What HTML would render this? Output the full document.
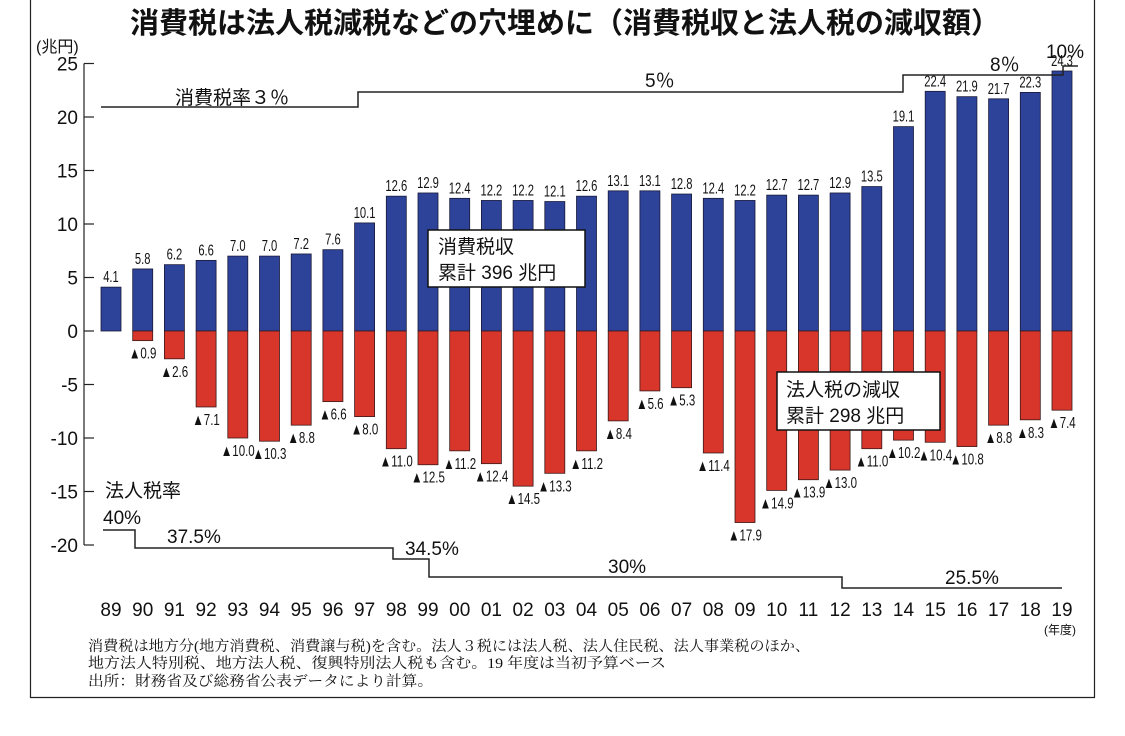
<!DOCTYPE html>
<html><head><meta charset="utf-8">
<style>
body{margin:0;background:#fff;}
svg{display:block;}
text{font-family:"Liberation Sans","Noto Sans CJK JP",sans-serif;fill:#111;}
.ser{font-family:"Liberation Serif","Noto Serif CJK SC",serif;}
</style></head>
<body>
<svg id="chart" width="1125" height="736" viewBox="0 0 1125 736" xmlns="http://www.w3.org/2000/svg">
<rect x="0" y="0" width="1125" height="736" fill="#fff"/>
<path d="M30.5 0 V697.5 H1094.5 V0" fill="none" stroke="#222" stroke-width="1.2"/>
<text x="565" y="33" text-anchor="middle" font-size="29" font-weight="bold">消費税は法人税減税などの穴埋めに（消費税収と法人税の減収額）</text>
<text x="36" y="52" font-size="16">(兆円)</text>
<g id="axis"></g>
<g id="bars"></g>
<g id="rates"></g>
<g id="xlabels"></g>
<text x="1060" y="634" font-size="12" text-anchor="middle">(年度)</text>
<g>
<rect x="428" y="230" width="157" height="57" fill="#fff" stroke="#111" stroke-width="1.5"/>
<text x="438" y="253" font-size="19">消費税収</text>
<text x="438" y="279" font-size="19">累計 396 兆円</text>
</g>
<g>
<rect x="777" y="372" width="163" height="58" fill="#fff" stroke="#111" stroke-width="1.5"/>
<text x="786" y="396" font-size="19">法人税の減収</text>
<text x="786" y="422" font-size="19">累計 298 兆円</text>
</g>
<g class="ser">
<text class="ser" x="88" y="651" font-size="14.5" textLength="722" lengthAdjust="spacingAndGlyphs">消費税は地方分(地方消費税、消費譲与税)を含む。法人３税には法人税、法人住民税、法人事業税のほか、</text>
<text class="ser" x="88" y="668" font-size="14.5" textLength="578" lengthAdjust="spacingAndGlyphs">地方法人特別税、地方法人税、復興特別法人税も含む。19 年度は当初予算ベース</text>
<text class="ser" x="88" y="686" font-size="14.5" textLength="345" lengthAdjust="spacingAndGlyphs">出所：財務省及び総務省公表データにより計算。</text>
</g>
</svg>
<script>
const years = ["89","90","91","92","93","94","95","96","97","98","99","00","01","02","03","04","05","06","07","08","09","10","11","12","13","14","15","16","17","18","19"];
const consumption = [4.1,5.8,6.2,6.6,7.0,7.0,7.2,7.6,10.1,12.6,12.9,12.4,12.2,12.2,12.1,12.6,13.1,13.1,12.8,12.4,12.2,12.7,12.7,12.9,13.5,19.1,22.4,21.9,21.7,22.3,24.3];
const corpLoss = [0,0.9,2.6,7.1,10.0,10.3,8.8,6.6,8.0,11.0,12.5,11.2,12.4,14.5,13.3,11.2,8.4,5.6,5.3,11.4,17.9,14.9,13.9,13.0,11.0,10.2,10.4,10.8,8.8,8.3,7.4];
const yTicks = [25,20,15,10,5,0,-5,-10,-15,-20];

const NS="http://www.w3.org/2000/svg";
const y0=331, k=10.7;
function yS(v){return y0 - v*k;}
function xS(i){return 111 + i*31.7;}
function mk(tag, attrs, parent, txt){const e=document.createElementNS(NS,tag);for(const a in attrs)e.setAttribute(a,attrs[a]);if(txt!==undefined)e.textContent=txt;parent.appendChild(e);return e;}

const ax=document.getElementById('axis');
mk('line',{x1:84,y1:yS(25),x2:84,y2:yS(-20),stroke:'#222','stroke-width':1.2},ax);
yTicks.forEach(t=>{
  const l=mk('line',{x1:84,y1:yS(t),x2:94,y2:yS(t),stroke:'#222','stroke-width':1.2},ax);
  
  
  const tx=mk('text',{x:78,y:yS(t)+7,'text-anchor':'end','font-size':19},ax,String(t));
  
  
});

const bg=document.getElementById('bars');
const bw=20;
years.forEach((yr,i)=>{
  const cx=xS(i), v=consumption[i], n=corpLoss[i];
  const b=mk('rect',{x:cx-bw/2,y:yS(v),width:bw,height:yS(0)-yS(v),fill:'#2c4399',stroke:'#1a1a3a','stroke-width':0.8},bg);
  
  
  const lb=mk('text',{x:cx,y:yS(v)-5,'text-anchor':'middle','font-size':16,transform:`translate(${cx},0) scale(0.7,1) translate(${-cx},0)`},bg,v.toFixed(1));
  
  
  if(n>0){
    const r=mk('rect',{x:cx-bw/2,y:yS(0),width:bw,height:yS(-n)-yS(0),fill:'#d8352b',stroke:'#3a1a1a','stroke-width':0.8},bg);
    
    
    const t=mk('text',{x:cx,y:yS(-n)+18,'text-anchor':'middle','font-size':16,transform:`translate(${cx},0) scale(0.72,1) translate(${-cx},0)`},bg,'▲'+n.toFixed(1));
    
    
  }
});

const xg=document.getElementById('xlabels');
years.forEach((yr,i)=>{
  const t=mk('text',{x:xS(i),y:616,'text-anchor':'middle','font-size':19},xg,yr);
  
  
});

const rg=document.getElementById('rates');
const cl=mk('path',{d:'M101 107 H358 V92 H903 V75 H1063 V66 H1078',fill:'none',stroke:'#222','stroke-width':1.5},rg);


const pl=mk('path',{d:'M103 530 H135 V548 H393 V559 H429 V577 H842 V588 H1062',fill:'none',stroke:'#222','stroke-width':1.5},rg);


[['消費税率３％',175,104,19],['5％',645,87,19],['8％',990,71,19],['10%',1065,58,19],['法人税率',105,497,19],['40%',103,524,19],['37.5%',167,543,19],['34.5%',405,555,19],['30%',608,573,19],['25.5%',945,584,19]].forEach(a=>{
  const t=mk('text',{x:a[1],y:a[2],'font-size':a[3],'text-anchor':a[0]=='10%'?'middle':'start'},rg,a[0]);
  
  
});
</script>
</body></html>
